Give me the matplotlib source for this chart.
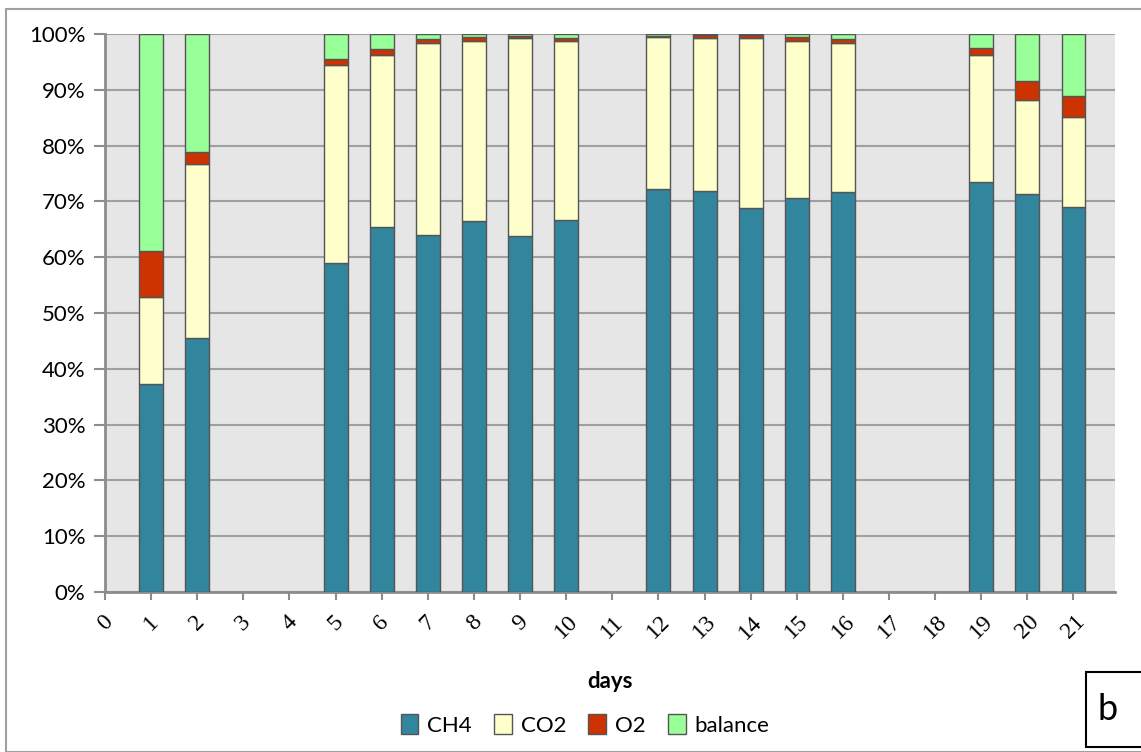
import numpy as np
import matplotlib.pyplot as plt
from matplotlib.patches import Rectangle, Patch

plt.rcParams['font.family'] = ['Lato', 'DejaVu Sans']

# days with measurements and gas composition (%)
days = [1, 2, 5, 6, 7, 8, 9, 10, 12, 13, 14, 15, 16, 19, 20, 21]
ch4 = [37.3, 45.6, 59.0, 65.5, 64.0, 66.5, 63.8, 66.7, 72.3, 71.8, 68.9, 70.6, 71.6, 73.4, 71.3, 69.0]
co2 = [15.6, 31.1, 35.4, 30.7, 34.3, 32.3, 35.4, 32.1, 27.2, 27.5, 30.4, 28.2, 26.7, 22.8, 16.8, 16.1]
o2 = [8.2, 2.2, 1.2, 1.1, 0.8, 0.6, 0.4, 0.4, 0.2, 0.5, 0.5, 0.7, 0.8, 1.3, 3.4, 3.8]
balance = [100 - a - b - c for a, b, c in zip(ch4, co2, o2)]

series = ['CH4', 'CO2', 'O2', 'balance']
colors = ['#31859C', '#FFFFCC', '#CC3300', '#99FF99']
tick_days = list(range(0, 22))

fig = plt.figure(figsize=(11.41, 7.52), dpi=100)
ax = fig.add_axes([105 / 1141, 1 - 592 / 752, (1115 - 105) / 1141, (592 - 34) / 752])
ax.set_facecolor('#E6E6E6')

bottom = np.zeros(len(days))
for name, vals, col in zip(series, [ch4, co2, o2, balance], colors):
    ax.bar(days, vals, width=0.52, bottom=bottom, color=col, edgecolor='#555555',
           linewidth=1, label=name, zorder=3)
    bottom += np.array(vals)

ax.set_xlim(0, 21.9)
ax.set_ylim(0, 100)
ax.set_yticks(np.arange(0, 101, 10))
ax.set_yticklabels([f'{v}%' for v in range(0, 101, 10)], fontsize=16)
ax.set_xticks(tick_days)
ax.set_xticklabels([str(d) for d in tick_days], rotation=45, ha='center', va='top',
                   fontsize=17, family='Liberation Serif')
ax.yaxis.grid(True, color='#A0A0A0', linewidth=1.5, zorder=0)
for s in ['top', 'right']:
    ax.spines[s].set_visible(False)
for s in ['left', 'bottom']:
    ax.spines[s].set_color('#8C8C8C')
    ax.spines[s].set_linewidth(2)
ax.tick_params(axis='y', length=8, color='#8C8C8C', width=1.5, pad=6)
ax.tick_params(axis='x', length=6, color='#8C8C8C', width=1.5, pad=8)

fig.text(610 / 1141, 1 - 681 / 752, 'days', fontsize=16, fontweight='bold', ha='center', va='center')

handles = [Patch(facecolor=c, edgecolor='#555555', label=n) for n, c in zip(series, colors)]
fig.legend(handles=handles, loc='center', bbox_to_anchor=(585 / 1141, 1 - 725 / 752), ncol=4,
           frameon=False, fontsize=16, handlelength=0.8, handleheight=1.0,
           handletextpad=0.4, columnspacing=1.0)

# outer chart frame and panel label
fig.patches.append(Rectangle((6 / 1141, 0), 1.2, 1 - 9 / 752, transform=fig.transFigure,
                             fill=False, edgecolor='#A0A0A0', linewidth=1.5))
fig.patches.append(Rectangle((1086 / 1141, 1 - 747 / 752), 0.1, 75 / 752, transform=fig.transFigure,
                             facecolor='white', edgecolor='black', linewidth=1.5))
fig.text(1108 / 1141, 1 - 710 / 752, 'b', fontsize=26, ha='center', va='center')

fig.savefig('out.png', dpi=100)
